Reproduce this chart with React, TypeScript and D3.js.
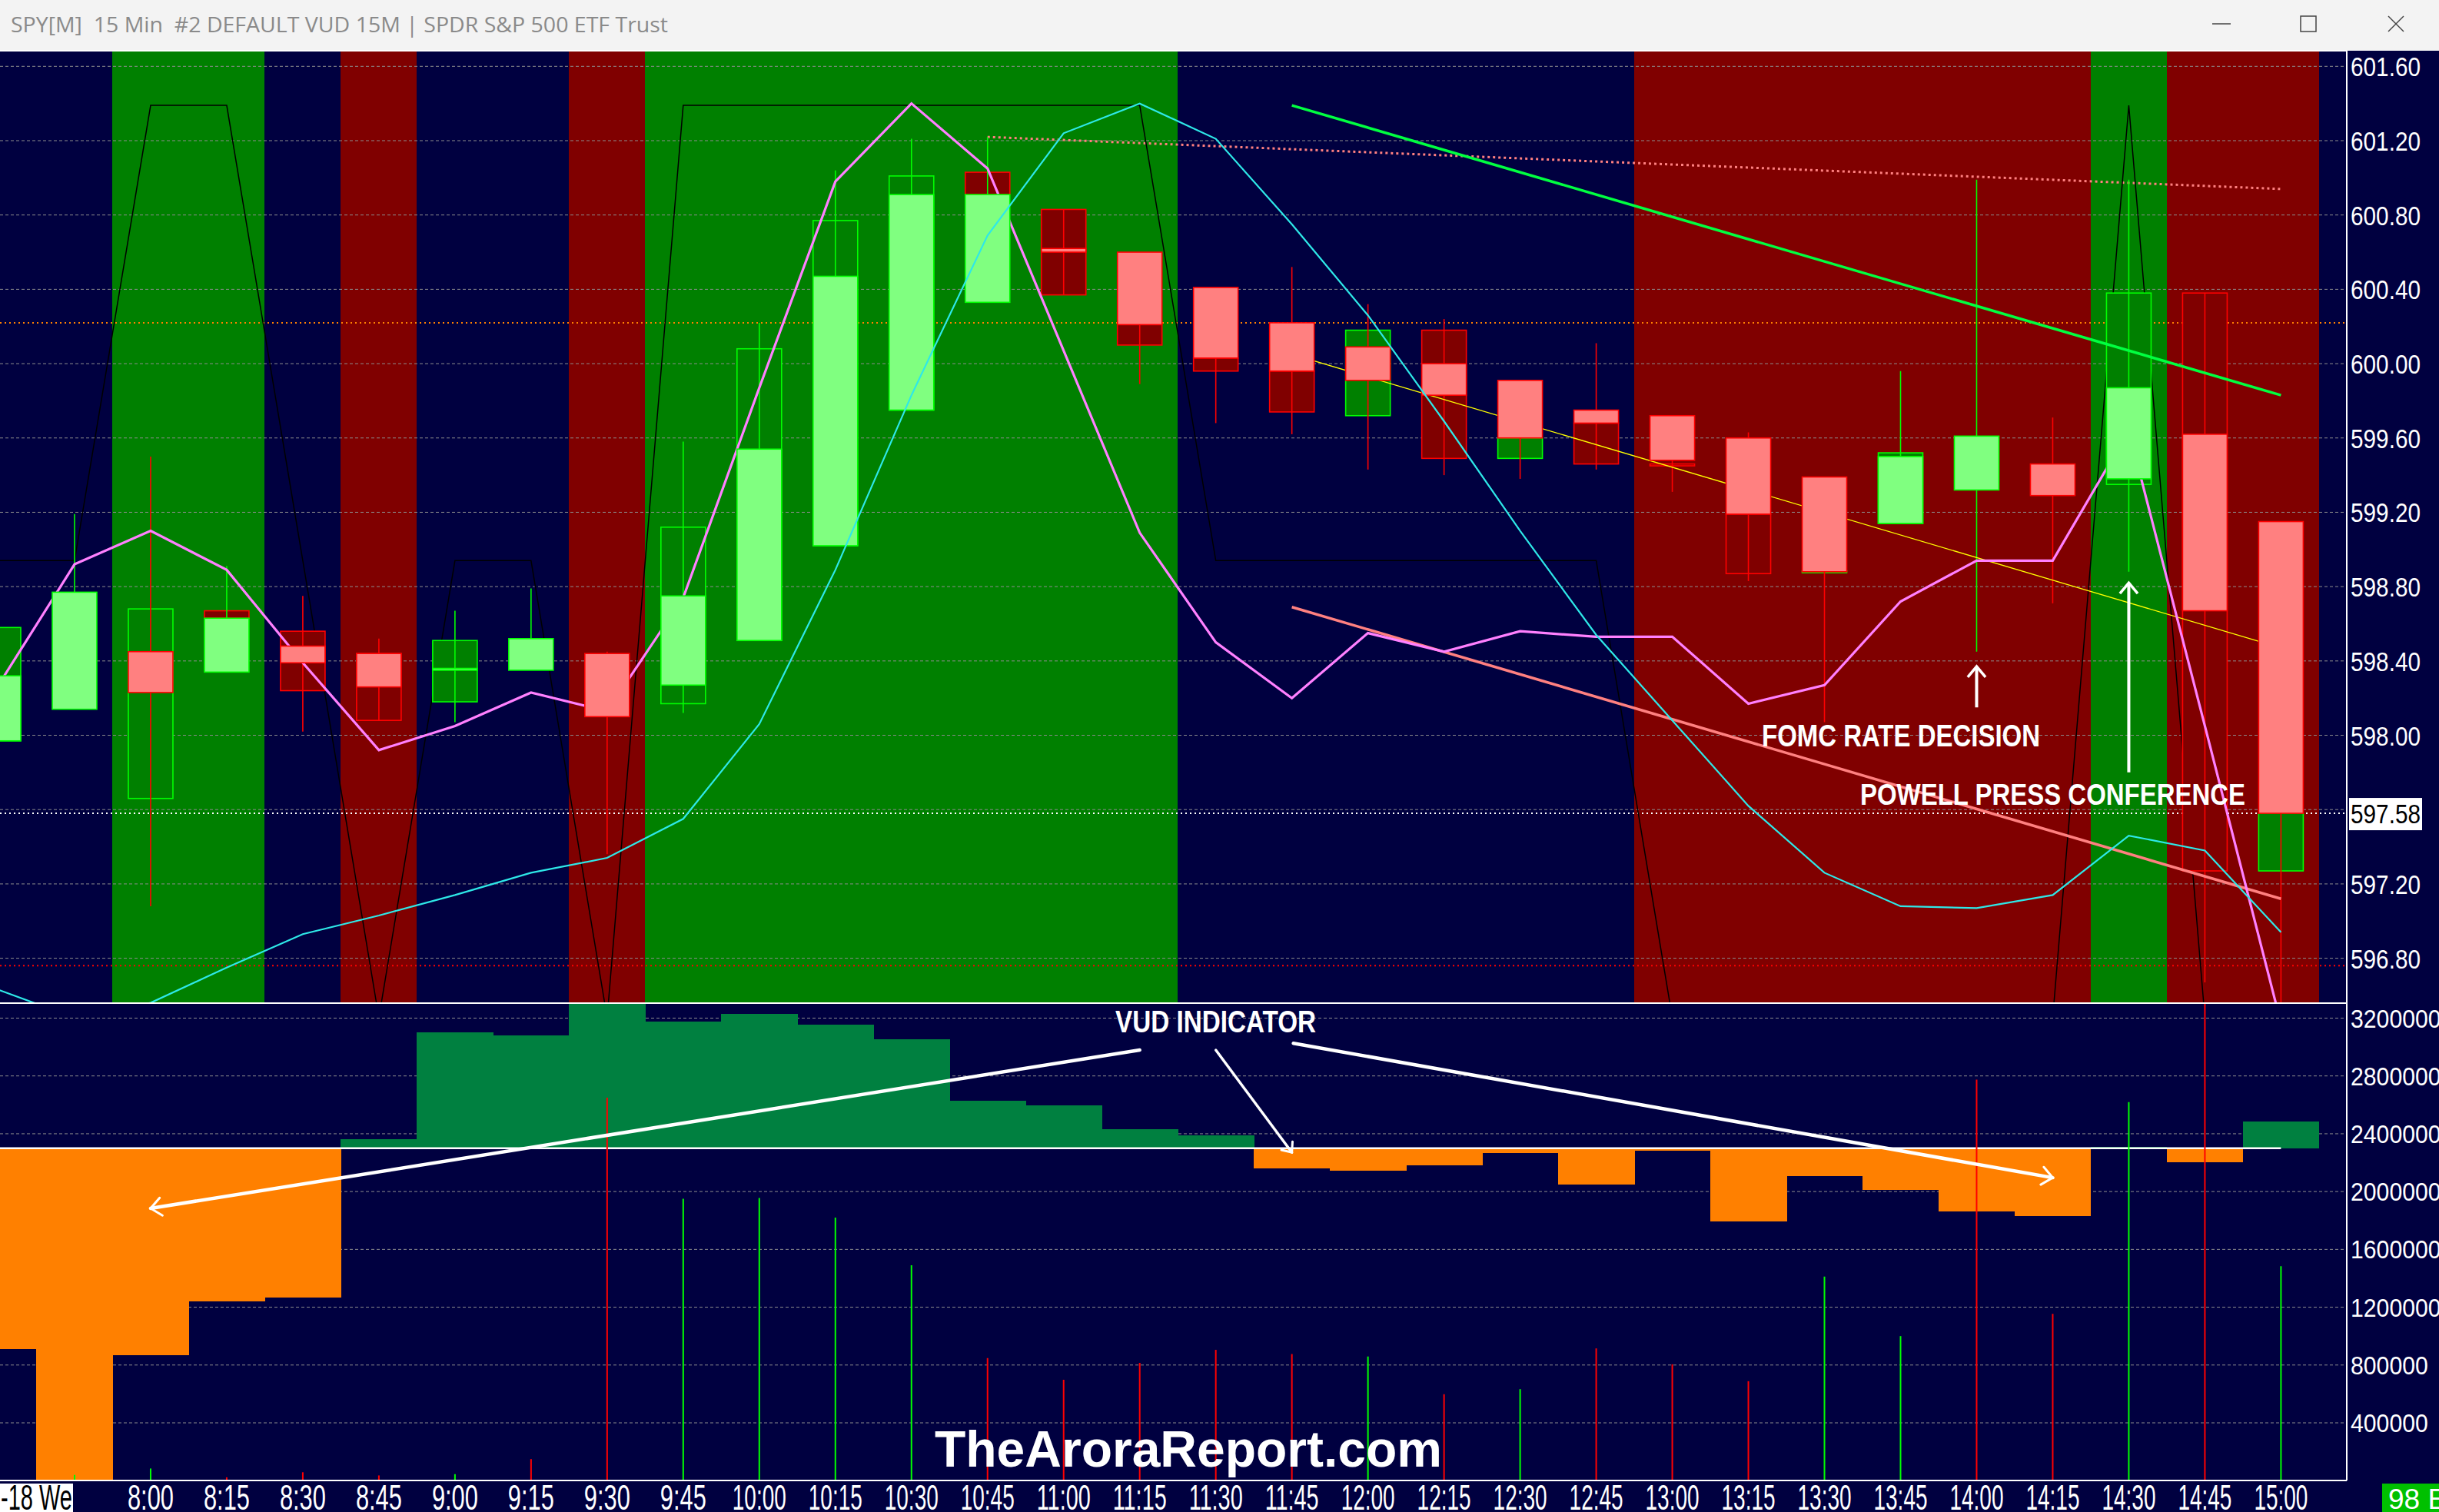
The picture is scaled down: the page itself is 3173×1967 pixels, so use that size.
import React from "react";
import * as d3 from "d3";

// ---------- DATA ----------
const times = ["7:30","7:45","8:00","8:15","8:30","8:45","9:00","9:15","9:30","9:45","10:00","10:15","10:30","10:45","11:00","11:15","11:30","11:45","12:00","12:15","12:30","12:45","13:00","13:15","13:30","13:45","14:00","14:15","14:30","14:45","15:00"];
const bandState = ["n","n","g","g","n","r","n","n","r","g","g","g","g","g","g","g","n","n","n","n","n","n","r","r","r","r","r","r","g","r","r"];

const opens  = [597.97,598.14,598.45,598.34,598.48,598.44,598.35,598.35,598.44,598.27,598.51,599.02,599.75,600.33,600.62,600.60,600.41,600.22,600.09,600.00,599.91,599.75,599.72,599.60,599.39,599.14,599.32,599.46,599.38,599.62,599.15];
const closes = [598.32,598.77,598.23,598.63,598.39,598.26,598.36,598.52,598.10,598.75,599.54,600.47,600.91,600.91,600.60,600.21,600.03,599.96,599.91,599.83,599.60,599.68,599.48,599.19,598.88,599.50,599.61,599.29,599.87,598.67,597.58];
const highs  = [598.32,599.19,599.50,598.91,598.75,598.52,598.67,598.79,598.45,599.58,600.22,601.04,601.21,601.22,600.83,600.60,600.41,600.52,600.32,600.24,599.91,600.11,599.72,599.63,599.39,599.96,600.99,599.71,600.99,600.38,599.15];
const lows   = [597.97,598.14,597.08,598.34,598.02,598.08,598.07,598.35,597.36,598.12,598.51,599.02,599.75,600.33,600.37,599.89,599.68,599.62,599.43,599.40,599.38,599.43,599.31,598.83,598.07,599.14,598.45,598.71,598.88,596.67,596.40];

const boxTops = [598.58,null,598.68,598.67,598.56,598.44,598.51,null,null,599.12,600.08,600.77,601.01,601.03,600.83,600.21,600.03,599.96,600.18,600.18,599.60,599.68,599.46,599.19,598.885,599.52,null,null,600.38,600.38,597.58];
const boxBots = [597.97,null,597.66,598.63,598.24,598.08,598.18,null,null,598.17,598.51,599.02,599.75,600.91,600.37,600.10,599.96,599.74,599.72,599.49,599.49,599.46,599.45,598.87,598.875,599.14,null,null,599.35,597.27,597.27];
const boxUp   = [true,null,true,false,false,false,true,null,null,true,true,true,true,false,false,false,false,false,true,false,true,false,false,false,true,true,null,null,true,false,true];

const magentaLine = [598.27,598.92,599.10,598.89,598.39,597.92,598.05,598.23,598.13,598.74,599.87,600.98,601.40,601.05,600.07,599.09,598.50,598.20,598.55,598.45,598.56,598.53,598.53,598.17,598.27,598.72,598.94,598.94,599.64,598.05,596.45];
const cyanLine = [596.63,596.48,596.56,596.75,596.93,597.03,597.14,597.26,597.34,597.55,598.06,598.89,599.83,600.69,601.24,601.40,601.21,600.75,600.26,599.69,599.10,598.54,598.08,597.62,597.26,597.08,597.07,597.14,597.46,597.38,596.94];
const blackLine = [598.94,598.94,601.39,601.39,598.94,596.48,598.94,598.94,596.48,601.39,601.39,601.39,601.39,601.39,601.39,601.39,598.94,598.94,598.94,598.94,598.94,598.94,596.48,596.48,596.48,596.48,596.48,596.48,601.39,596.48,596.48];

const vudValues = [909000,0,870000,1241000,1267000,2363000,3101000,3080000,3300000,3175000,3229000,3155000,3054000,2628000,2595000,2430000,2389000,2161000,2144000,2183000,2268000,2051000,2283000,1793000,2107000,2011000,1864000,1832000,2309000,2205000,2485000];
const vudBase = 2300000;

const volumes = [0,40000,84000,23000,58000,36000,45000,149000,2650000,1950000,1955000,1820000,1490000,848000,698000,815000,905000,876000,859000,598000,633000,915000,805000,688000,1412000,1000000,2775000,1154000,2619000,4000000,1484000];
const volUp = [true,true,true,false,false,false,true,false,false,true,true,true,true,false,false,false,false,false,true,false,true,false,false,false,true,true,false,false,true,false,true];

const priceTicks = [601.6,601.2,600.8,600.4,600.0,599.6,599.2,598.8,598.4,598.0,597.6,597.2,596.8];
const volTicks = [3200000,2800000,2400000,2000000,1600000,1200000,800000,400000];
const lastPrice = 597.58;
const orangeLevel = 600.22;
const redLevel = 596.76;

const greenTrend = [[17, 601.39], [30, 599.83]];
const salmonTrend = [[17, 598.69], [30, 597.12]];
const yellowTrend = [[17, 600.05], [30, 598.47]];
const salmonDotted = [[13, 601.22], [30, 600.94]];

// ---------- LAYOUT ----------
const W = 3173, H = 1967;
const TOP = 66, MID = 1305, BOT = 1926, AXX = 3053;
const NAVY = "#000040";
const BAND = { n: NAVY, g: "#008000", r: "#800000" } as Record<string, string>;

function chevron(x1: number, y1: number, x2: number, y2: number, len = 20, ang = 0.6) {
  const a = Math.atan2(y1 - y2, x1 - x2);
  const p1 = [x2 + len * Math.cos(a + ang), y2 + len * Math.sin(a + ang)];
  const p2 = [x2 + len * Math.cos(a - ang), y2 + len * Math.sin(a - ang)];
  return `M${p1[0]},${p1[1]}L${x2},${y2}L${p2[0]},${p2[1]}`;
}

export default function App() {
  const x = d3.scaleLinear().domain([0, times.length - 1]).range([-2, 2967.4]);
  const step = x(1) - x(0);
  const yP = d3.scaleLinear().domain([596.8, 601.6]).range([1246.6, 86.3]);
  const yV = d3.scaleLinear().domain([400000, 3200000]).range([1851, 1324.5]);
  const lineP = d3.line<number>().x((_, i) => x(i)).y((d) => yP(d));
  const seg = (pts: number[][]) => d3.line<number[]>().x((d) => x(d[0])).y((d) => yP(d[1]))(pts) as string;
  const bw = 58;
  const grid = "#8c8c8c";
  const narrow = "Liberation Sans, Arial, sans-serif";

  const vudStart1: [number, number] = [x(15), yV(2979000)];
  const vudEnd1: [number, number] = [x(2), yV(1884000)];
  const vudStart2: [number, number] = [x(16), yV(2979000)];
  const vudEnd2: [number, number] = [x(17), yV(2271000)];
  const vudStart3: [number, number] = [x(17) + 2, yV(3026000)];
  const vudEnd3: [number, number] = [x(27), yV(2096000)];

  return (
    <svg width={W} height={H} style={{ position: "absolute", left: 0, top: 0, display: "block" }} fontFamily={narrow}>
      <defs>
        <clipPath id="cp"><rect x={0} y={TOP} width={AXX} height={MID - TOP} /></clipPath>
        <clipPath id="cv"><rect x={0} y={MID} width={AXX} height={BOT - MID} /></clipPath>
      </defs>
      <rect x={0} y={0} width={W} height={H} fill={NAVY} />

      {/* title bar */}
      <rect x={0} y={0} width={W} height={TOP} fill="#f3f3f3" />
      <text x={14} y={42} fontSize={28} fill="#8a8a8a" fontFamily="Open Sans, Noto Sans, sans-serif" style={{ whiteSpace: "pre" }} textLength={855} lengthAdjust="spacingAndGlyphs">SPY[M]  15 Min  #2 DEFAULT VUD 15M | SPDR S&amp;P 500 ETF Trust</text>
      <g stroke="#444" strokeWidth={1.5} fill="none">
        <line x1={2878} y1={31} x2={2902} y2={31} />
        <rect x={2993} y={21} width={20} height={20} />
        <line x1={3107} y1={21} x2={3127} y2={41} />
        <line x1={3127} y1={21} x2={3107} y2={41} />
      </g>

      {/* PRICE PANEL */}
      <g clipPath="url(#cp)">
        {bandState.map((b, i) => (
          <rect key={"b" + i} x={x(i) - step / 2} y={TOP} width={step + 0.5} height={MID - TOP} fill={BAND[b]} shapeRendering="crispEdges" />
        ))}
        {priceTicks.map((p) => (
          <line key={"g" + p} x1={0} x2={AXX} y1={yP(p)} y2={yP(p)} stroke={grid} strokeWidth={1} strokeDasharray="4,3" />
        ))}
        <line x1={0} x2={AXX} y1={yP(orangeLevel)} y2={yP(orangeLevel)} stroke="#ff8000" strokeWidth={2} strokeDasharray="2,4" />
        <line x1={0} x2={AXX} y1={yP(lastPrice)} y2={yP(lastPrice)} stroke="#ffffff" strokeWidth={2} strokeDasharray="2,4" />
        <line x1={0} x2={AXX} y1={yP(redLevel)} y2={yP(redLevel)} stroke="#ff0000" strokeWidth={2} strokeDasharray="2,4" />
        <path d={seg(salmonDotted)} stroke="#ff8080" strokeWidth={3} strokeDasharray="3,4" fill="none" />

        <path d={lineP(blackLine) as string} stroke="#000000" strokeWidth={1.5} fill="none" />

        {/* boxes */}
        {boxTops.map((t, i) =>
          t == null ? null : (
            <rect key={"bx" + i} x={x(i) - bw / 2} y={yP(t)} width={bw} height={Math.max(1, yP(boxBots[i] as number) - yP(t))}
              fill={boxUp[i] ? "#008000" : "#800000"} stroke={boxUp[i] ? "#00ff00" : "#ff0000"} strokeWidth={1.6} />
          )
        )}
        {/* wicks */}
        {highs.map((h, i) => (
          <line key={"w" + i} x1={x(i)} x2={x(i)} y1={yP(h)} y2={yP(lows[i])} stroke={closes[i] >= opens[i] ? "#00ff00" : "#ff0000"} strokeWidth={1.6} />
        ))}
        {/* trend lines */}
        <path d={seg(yellowTrend)} stroke="#ffff00" strokeWidth={1.3} fill="none" />
        <path d={seg(salmonTrend)} stroke="#ff8080" strokeWidth={3.5} fill="none" />
        <path d={seg(greenTrend)} stroke="#00ff40" strokeWidth={3.5} fill="none" />
        {/* magenta */}
        <path d={lineP(magentaLine) as string} stroke="#ff80ff" strokeWidth={3.2} fill="none" />
        {/* bodies */}
        {opens.map((o, i) => {
          const c = closes[i];
          const up = c >= o;
          const top = yP(Math.max(o, c));
          const h = Math.max(2, Math.abs(yP(o) - yP(c)));
          return (
            <rect key={"bd" + i} x={x(i) - bw / 2} y={top} width={bw} height={h}
              fill={up ? "#80ff80" : "#ff8080"} stroke={up ? "#00ff00" : "#ff0000"} strokeWidth={1.6} />
          );
        })}
        {/* cyan */}
        <path d={lineP(cyanLine) as string} stroke="#2ee8e8" strokeWidth={2.2} fill="none" />

        {/* annotations */}
        <g stroke="#ffffff" fill="none" strokeWidth={4}>
          <line x1={x(26)} x2={x(26)} y1={yP(598.15)} y2={yP(598.37)} />
          <path d={chevron(x(26), yP(598.15), x(26), yP(598.37), 18, 0.7)} strokeWidth={3.5} />
          <line x1={x(28)} x2={x(28)} y1={yP(597.80)} y2={yP(598.82)} />
          <path d={chevron(x(28), yP(597.80), x(28), yP(598.82), 18, 0.7)} strokeWidth={3.5} />
        </g>
        <text x={2292} y={971} fontSize={40} fontWeight="bold" fill="#ffffff" textLength={362} lengthAdjust="spacingAndGlyphs">FOMC RATE DECISION</text>
        <text x={2420} y={1047} fontSize={39} fontWeight="bold" fill="#ffffff" textLength={501} lengthAdjust="spacingAndGlyphs">POWELL PRESS CONFERENCE</text>
      </g>

      {/* VOLUME PANEL */}
      <g clipPath="url(#cv)">
        {volTicks.map((v) => (
          <line key={"vg" + v} x1={0} x2={AXX} y1={yV(v)} y2={yV(v)} stroke={grid} strokeWidth={1} strokeDasharray="4,3" />
        ))}
        {vudValues.map((v, i) => {
          const up = v >= vudBase;
          const y0 = yV(vudBase), y1 = yV(v);
          return (
            <rect key={"vd" + i} x={x(i) - step / 2} y={Math.min(y0, y1)} width={step + 0.5} height={Math.max(1, Math.abs(y1 - y0))}
              fill={up ? "#008040" : "#ff8000"} shapeRendering="crispEdges" />
          );
        })}
        <line x1={0} x2={x(30)} y1={yV(vudBase)} y2={yV(vudBase)} stroke="#ffffff" strokeWidth={2.5} />
        {volumes.map((v, i) =>
          v <= 0 ? null : (
            <line key={"vl" + i} x1={x(i)} x2={x(i)} y1={yV(0)} y2={yV(v)} stroke={volUp[i] ? "#00ff00" : "#ff0000"} strokeWidth={2} />
          )
        )}
        <text x={1546} y={1908} fontSize={66} fontWeight="bold" fill="#ffffff" textAnchor="middle" textLength={660} lengthAdjust="spacingAndGlyphs">TheAroraReport.com</text>
        <text x={1451} y={1343} fontSize={40} fontWeight="bold" fill="#ffffff" textLength={261} lengthAdjust="spacingAndGlyphs">VUD INDICATOR</text>
        <g stroke="#ffffff" fill="none" strokeWidth={4.5} strokeLinecap="round">
          <line x1={vudStart1[0]} y1={vudStart1[1]} x2={vudEnd1[0]} y2={vudEnd1[1]} />
          <path d={chevron(vudStart1[0], vudStart1[1], vudEnd1[0], vudEnd1[1], 18, 0.7)} strokeWidth={3} />
          <line x1={vudStart2[0]} y1={vudStart2[1]} x2={vudEnd2[0]} y2={vudEnd2[1]} strokeWidth={3.5} />
          <path d={chevron(vudStart2[0], vudStart2[1], vudEnd2[0], vudEnd2[1], 14, 0.7)} strokeWidth={3} />
          <line x1={vudStart3[0]} y1={vudStart3[1]} x2={vudEnd3[0]} y2={vudEnd3[1]} />
          <path d={chevron(vudStart3[0], vudStart3[1], vudEnd3[0], vudEnd3[1], 18, 0.7)} strokeWidth={3} />
        </g>
      </g>

      {/* panel borders */}
      <g stroke="#ffffff" strokeWidth={2}>
        <line x1={0} x2={AXX} y1={TOP} y2={TOP} />
        <line x1={0} x2={AXX} y1={MID} y2={MID} />
        <line x1={0} x2={AXX} y1={BOT} y2={BOT} />
        <line x1={AXX} x2={AXX} y1={TOP} y2={BOT} />
      </g>

      {/* price axis labels */}
      {priceTicks.filter((p) => Math.abs(p - 597.6) > 0.01).map((p) => (
        <text key={"pl" + p} x={3058} y={yP(p) + 13} fontSize={35} fill="#ffffff" textLength={91} lengthAdjust="spacingAndGlyphs">{p.toFixed(2)}</text>
      ))}
      <rect x={3056} y={yP(lastPrice) - 20} width={95} height={42} fill="#ffffff" />
      <text x={3058} y={yP(lastPrice) + 13} fontSize={35} fill="#000000" textLength={91} lengthAdjust="spacingAndGlyphs">{lastPrice.toFixed(2)}</text>

      {/* volume axis labels */}
      {volTicks.map((v) => {
        const s = String(v);
        return (
          <text key={"vl" + v} x={3058} y={yV(v) + 12} fontSize={33} fill="#ffffff" textLength={s.length * 16.8} lengthAdjust="spacingAndGlyphs">{s}</text>
        );
      })}

      {/* time axis */}
      {times.map((t, i) =>
        i < 2 ? null : (
          <text key={"t" + i} x={x(i)} y={1964} fontSize={46} fill="#ffffff" textAnchor="middle" textLength={t.length === 4 ? 60 : 70} lengthAdjust="spacingAndGlyphs">{t}</text>
        )
      )}
      <rect x={0} y={1930} width={95} height={37} fill="#ffffff" />
      <text x={1} y={1964} fontSize={46} fill="#000000" textLength={93} lengthAdjust="spacingAndGlyphs">-18 We</text>
      <rect x={3099} y={1930} width={74} height={37} fill="#00c000" />
      <text x={3107} y={1963} fontSize={37} fill="#ffffff">98 E</text>
    </svg>
  );
}
